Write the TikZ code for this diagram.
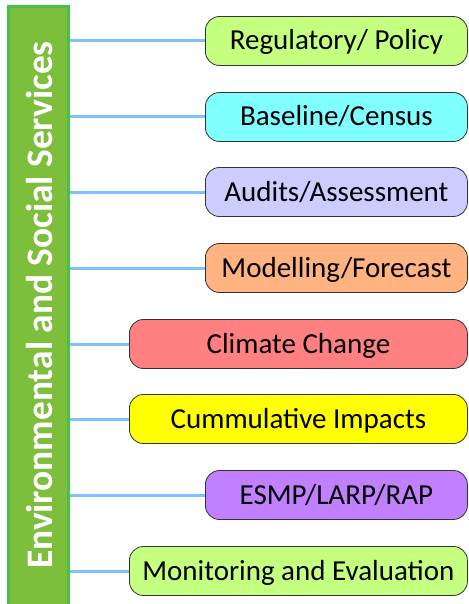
\documentclass[tikz,border=0pt]{standalone}
\usepackage{fontspec}
\setmainfont{Carlito}
\definecolor{barfill}{HTML}{7DBE3C}
\definecolor{barborder}{HTML}{46C24A}
\definecolor{conncol}{HTML}{80C0FF}
\definecolor{cgreen}{HTML}{C4FF80}
\definecolor{ccyan}{HTML}{80FFFF}
\definecolor{clav}{HTML}{CCCCFF}
\definecolor{corange}{HTML}{FFB380}
\definecolor{cred}{HTML}{FF8080}
\definecolor{cyellow}{HTML}{FFFF00}
\definecolor{cpurple}{HTML}{C080FF}
\tikzset{
  itembox/.style={draw=black!80, line width=0.8pt, rounded corners=14pt,
    minimum height=49pt, anchor=west, inner sep=0pt,
    text height=18pt, text depth=0pt,
    font=\fontsize{29}{34}\selectfont},
  shortbox/.style={itembox, minimum width=262pt},
  longbox/.style={itembox, minimum width=338pt},
  conn/.style={draw=conncol, line width=3pt},
}
\begin{document}
\begin{tikzpicture}[x=1pt,y=-1pt]
\useasboundingbox (0,0) rectangle (468,604);
\clip (0,0) rectangle (468,604);
\node[draw=barborder, fill=barfill, line width=3pt, minimum width=60pt,
      minimum height=640pt, anchor=north west, inner sep=0pt, outer sep=1.5pt] (bar) at (6.5,5.5) {};
\node[rotate=90, text=white, font=\bfseries\fontsize{37.4}{44}\selectfont] (title) at (39.5,305)
  {Environmental and Social Services};
\node[shortbox, fill=cgreen]   (b1) at (205,41)  {Regulatory/ Policy};
\node[shortbox, fill=ccyan]    (b2) at (205,117) {Baseline/Census};
\node[shortbox, fill=clav]     (b3) at (205,192) {Audits/Assessment};
\node[shortbox, fill=corange]  (b4) at (205,268) {Modelling/Forecast};
\node[longbox,  fill=cred]     (b5) at (129,344) {Climate Change};
\node[longbox,  fill=cyellow]  (b6) at (129,419) {Cummulative Impacts};
\node[shortbox, fill=cpurple]  (b7) at (205,495) {ESMP/LARP/RAP};
\node[longbox,  fill=cgreen]   (b8) at (129,571) {Monitoring and Evaluation};
\foreach \b in {b1,b2,b3,b4,b5,b6,b7,b8}{
  \draw[conn] (bar.east |- \b.west) -- (\b.west);
}
\end{tikzpicture}
\end{document}
